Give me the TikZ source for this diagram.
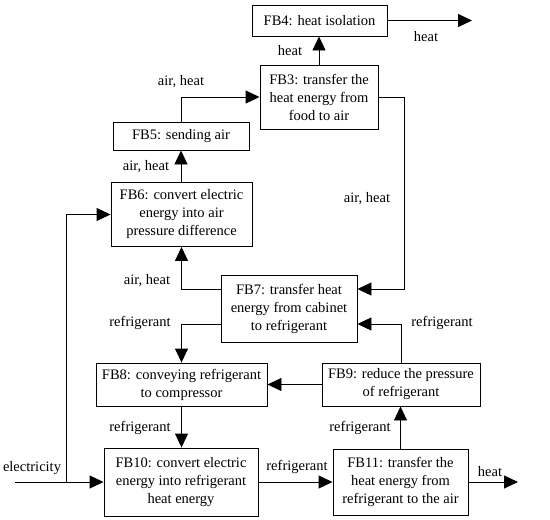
\documentclass[tikz,border=0pt]{standalone}
\usepackage{fontspec}
\setmainfont{Liberation Serif}
\usetikzlibrary{arrows.meta,calc}
\begin{document}
\begin{tikzpicture}[x=1pt,y=-1pt,
  every node/.style={font=\fontsize{14.5}{18}\selectfont},
  fbbox/.style={draw,line width=0.9pt,rectangle,inner sep=0pt,align=center,fill=white},
  lbl/.style={inner sep=0pt},
  arr/.style={line width=0.9pt,-{Triangle[length=14pt,width=13pt]}},
  ln/.style={line width=0.9pt}]
\useasboundingbox[fill=white] (0,0) rectangle (550,520);
% boxes
\node[fbbox,minimum width=135pt,minimum height=31pt] (fb4) at (319.5,20.5) {FB4: heat isolation};
\node[fbbox,minimum width=118pt,minimum height=64pt] (fb3) at (319,97) {FB3: transfer the\\heat energy from\\food to air};
\node[fbbox,minimum width=136pt,minimum height=28pt] (fb5) at (181,136) {FB5: sending air};
\node[fbbox,minimum width=141pt,minimum height=64pt] (fb6) at (181.5,214.5) {FB6: convert electric\\energy into air\\pressure difference};
\node[fbbox,minimum width=136pt,minimum height=67pt] (fb7) at (289,308.5) {FB7: transfer heat\\energy from cabinet\\to refrigerant};
\node[fbbox,minimum width=171pt,minimum height=43pt] (fb8) at (181.5,384.5) {FB8: conveying refrigerant\\to compressor};
\node[fbbox,minimum width=158pt,minimum height=43pt] (fb9) at (401,384.5) {FB9: reduce the pressure\\of refrigerant};
\node[fbbox,minimum width=154pt,minimum height=68pt] (fb10) at (181,482) {FB10: convert electric\\energy into refrigerant\\heat energy};
\node[fbbox,minimum width=135pt,minimum height=66pt] (fb11) at (400.5,482) {FB11: transfer the\\heat energy from\\refrigerant to the air};
% helper coordinates
\coordinate (o4) at (472,20.5);
\coordinate (c1) at (404,289);
\coordinate (yb) at (0,324);
\coordinate (o11) at (518,482);
\coordinate (e0) at (15,482);
\coordinate (e1) at (66,482);
% connectors
\draw[arr] (fb4.east) -- (o4);
\draw[arr] (fb3.north) -- (fb3.north |- fb4.south);
\draw[arr] (fb5.north) |- (fb3.west);
\draw[arr] (fb5.south |- fb6.north) -- (fb5.south);
\draw[arr] (fb3.east) -| (c1) -- (c1 -| fb7.east);
\draw[arr] (fb7.west |- c1) -| (fb6.south);
\draw[arr] (fb7.west |- yb) -| (fb8.north);
\draw[arr] (fb9.west) -- (fb8.east);
\draw[arr] (fb9.north) |- (fb7.east |- yb);
\draw[arr] (fb8.south) -- (fb8.south |- fb10.north);
\draw[arr] (fb10.east) -- (fb10.east -| fb11.west);
\draw[arr] (fb11.north) -- (fb11.north |- fb9.south);
\draw[arr] (fb11.east) -- (o11);
\draw[arr] (e0) -- (fb10.west);
\draw[arr] (e1) |- (fb6.west);
% labels
\node[lbl] (l1) at (426,37) {heat};
\node[lbl] (l2) at (290,51) {heat};
\node[lbl] (l3) at (181,82) {air, heat};
\node[lbl] (l4) at (146,167) {air, heat};
\node[lbl] (l5) at (367,199) {air, heat};
\node[lbl] (l6) at (147,281) {air, heat};
\node[lbl] (l7) at (140,323) {refrigerant};
\node[lbl] (l8) at (442,323) {refrigerant};
\node[lbl] (l9) at (140,428) {refrigerant};
\node[lbl] (l10) at (360,428) {refrigerant};
\node[lbl] (l11) at (297,467) {refrigerant};
\node[lbl] (l12) at (490,472) {heat};
\node[lbl] (l13) at (32,468) {electricity};
\end{tikzpicture}
\end{document}
